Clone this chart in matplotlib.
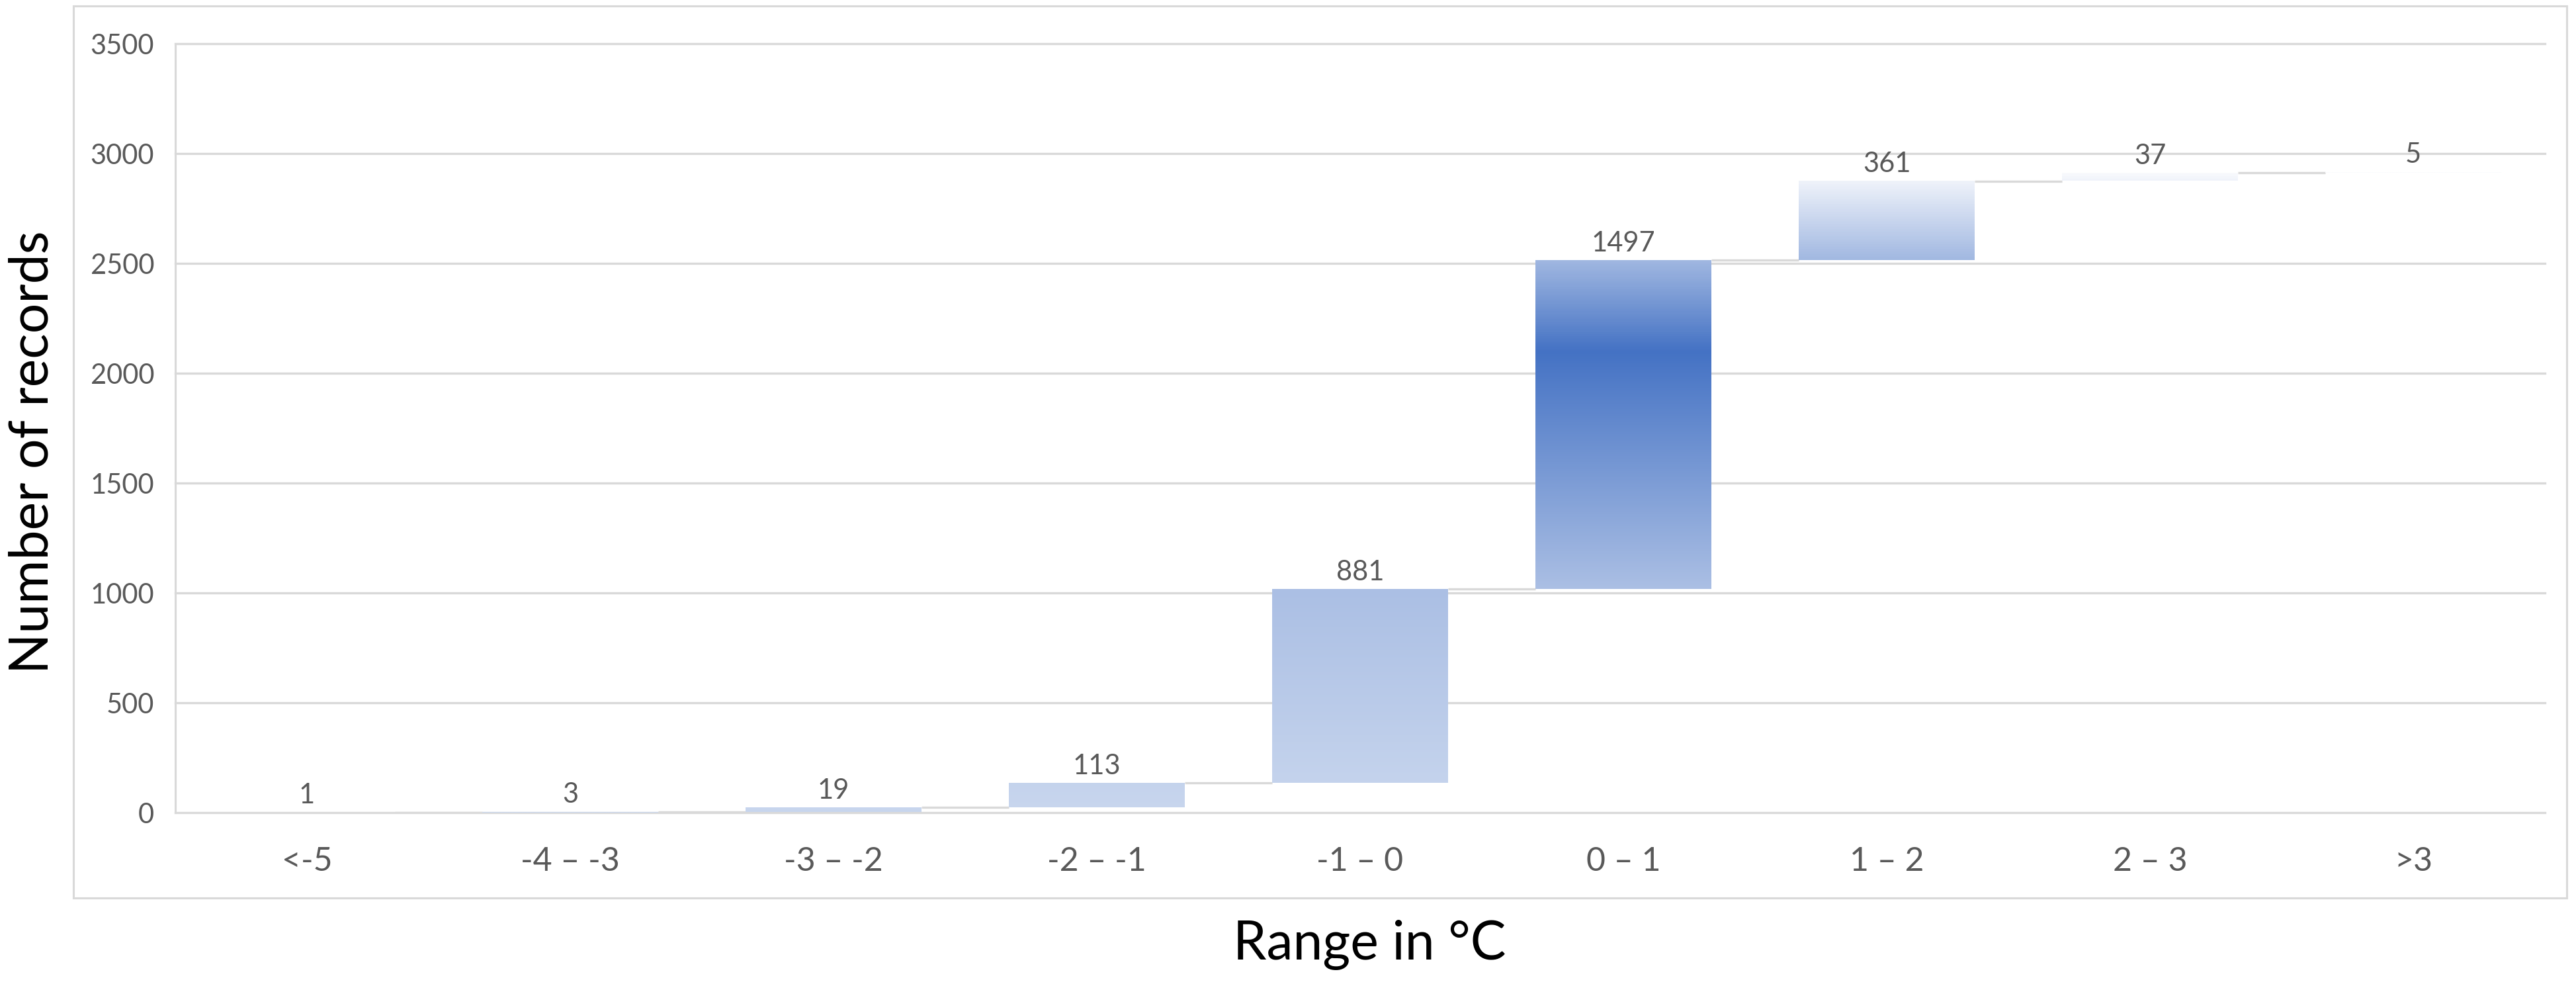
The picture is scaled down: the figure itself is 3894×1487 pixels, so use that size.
import numpy as np
import matplotlib
matplotlib.use("Agg")
import matplotlib.pyplot as plt
from matplotlib.colors import LinearSegmentedColormap, Normalize
from matplotlib.patches import Rectangle

plt.rcParams['font.family'] = ['Lato', 'DejaVu Sans']

# data
categories = ["<-5", "-4 \u2013 -3", "-3 \u2013 -2", "-2 \u2013 -1", "-1 \u2013 0",
              "0 \u2013 1", "1 \u2013 2", "2 \u2013 3", ">3"]
counts = [1, 3, 19, 113, 881, 1497, 361, 37, 5]
y_ticks = [0, 500, 1000, 1500, 2000, 2500, 3000, 3500]

# gradient stops over the value scale (value, colour)
grad_values = [0, 1017, 2100, 2514, 2875, 2917]
grad_colors = ['#c8d6ee', '#abbfe4', '#4472c4', '#a0b7e1', '#eef2fa', '#fafbfd']

W, H, DPI = 3894, 1487, 100
grid_col = '#d9d9d9'
text_col = '#595959'
lw = 2.4  # ~3.3 px

fig = plt.figure(figsize=(W / DPI, H / DPI), dpi=DPI)
fig.patches.append(Rectangle((111 / W, 1 - 1357 / H), (3880 - 111) / W, (1357 - 9) / H,
                             transform=fig.transFigure, fill=False,
                             edgecolor=grid_col, linewidth=2.2, zorder=0))

ax = fig.add_axes([265 / W, 1 - 1228 / H, (3847 - 265) / W, (1228 - 66) / H])

x = np.arange(len(categories))
vals = np.array(counts)
tops = np.cumsum(vals)
bottoms = tops - vals
bw = 2 / 3

norm = Normalize(grad_values[0], grad_values[-1])
cmap = LinearSegmentedColormap.from_list(
    'wf', [(norm(v), c) for v, c in zip(grad_values, grad_colors)])

bars = ax.bar(x, vals, bottom=bottoms, width=bw, color='none', edgecolor='none', zorder=3)
for b, bot, top in zip(bars, bottoms, tops):
    x0 = b.get_x()
    arr = np.linspace(bot, top, 300).reshape(-1, 1)
    im = ax.imshow(arr, cmap=cmap, norm=norm, origin='lower', aspect='auto',
                   extent=[x0, x0 + b.get_width(), bot, top], zorder=3,
                   interpolation='bilinear')
    im.set_clip_path(b)

# connector lines between bars
ax.hlines(tops[:-1], x[:-1] + bw / 2, x[1:] - bw / 2, colors=grid_col,
          linewidth=lw, zorder=2.5)

# data labels
for xi, top, v in zip(x, tops, counts):
    ax.annotate(str(v), (xi, top), xytext=(0, 9.5), textcoords='offset points',
                ha='center', va='baseline', fontsize=30, color=text_col, zorder=5)

ax.set_xlim(-0.5, len(categories) - 0.5)
ax.set_ylim(0, 3500)
ax.set_yticks(y_ticks)
ax.set_xticks(x)
ax.set_xticklabels(categories)
ax.tick_params(axis='both', length=0, labelcolor=text_col)
ax.tick_params(axis='x', pad=37, labelsize=36)
ax.tick_params(axis='y', pad=23, labelsize=30)

ax.grid(axis='y', color=grid_col, linewidth=lw, zorder=0)
ax.set_axisbelow(True)
for gl in ax.get_ygridlines():
    gl.set_clip_on(False)
for s in ['top', 'right', 'bottom']:
    ax.spines[s].set_visible(False)
ax.spines['left'].set_color(grid_col)
ax.spines['left'].set_linewidth(2.2)

fig.text(50 / W, 1 - 683 / H, "Number of records", rotation=90, ha='center',
         va='center', fontsize=58, color='black')
fig.text(2070 / W, 1 - 1450 / H, "Range in \u00b0C", ha='center', va='baseline',
         fontsize=58, color='black')

fig.savefig("out.png", dpi=DPI)
